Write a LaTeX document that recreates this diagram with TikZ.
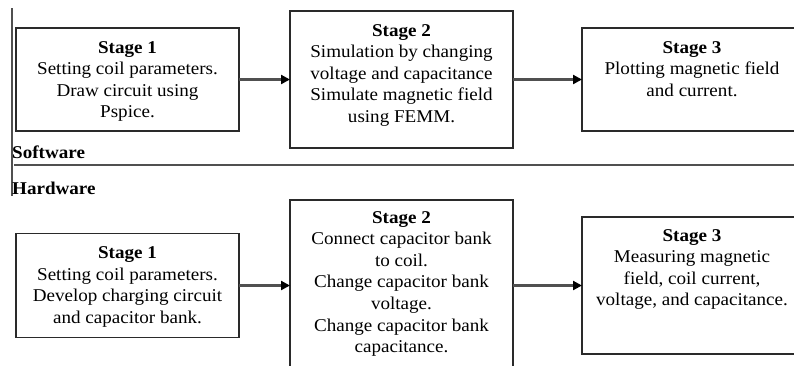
\documentclass[tikz,border=0pt]{standalone}
\usepackage{fontspec}
\setmainfont[FakeStretch=1.06]{Liberation Serif}
\usetikzlibrary{arrows.meta}

\definecolor{boxline}{HTML}{2A2A2A}
\definecolor{arrowline}{HTML}{505050}

\tikzset{
  stagebox/.style={draw=boxline, line width=1.6pt, inner sep=0pt, outer sep=0pt},
  stagetext/.style={anchor=north, align=center, inner sep=0pt,
    font=\fontsize{18}{21.6}\selectfont, text=black},
  flow/.style={draw=arrowline, line width=2.2pt,
    -{Triangle[length=9pt,width=9pt,color=black]}},
  divider/.style={draw=arrowline, line width=2pt},
  sectionlabel/.style={anchor=west, inner sep=0pt,
    font=\fontsize{18}{21}\selectfont\bfseries}
}

\begin{document}
\begin{tikzpicture}[x=1pt, y=-1pt]
  \useasboundingbox (0,0) rectangle (794,365);
  \clip (0,0) rectangle (794,365);

  % section separators
  \coordinate (vtop) at (12,8);
  \coordinate (vbot) at (12,196);
  \coordinate (hl) at (14,165);
  \coordinate (hr) at (794,165);
  \draw[divider, line width=1.4pt] (vtop) -- (vbot);
  \draw[divider] (hl) -- (hr);

  \node[sectionlabel] (sw) at (12,152) {Software};
  \node[sectionlabel] (hw) at (12,188) {Hardware};

  % software chain
  \node[stagebox, minimum width=223pt, minimum height=103pt] (s1) at (127.5,79.5) {};
  \node[stagebox, minimum width=223pt, minimum height=137pt] (s2) at (401.5,79.5) {};
  \node[stagebox, minimum width=238pt, minimum height=103pt] (s3) at (701,79.5) {};

  \node[stagetext] (s1t) at ([yshift=-13pt]s1.north)
    {\textbf{Stage 1}\\Setting coil parameters.\\Draw circuit using\\Pspice.};
  \node[stagetext] (s2t) at ([yshift=-13pt]s2.north)
    {\textbf{Stage 2}\\Simulation by changing\\voltage and capacitance\\Simulate magnetic field\\using FEMM.};
  \node[stagetext] (s3t) at ([yshift=-13pt,xshift=-9pt]s3.north)
    {\textbf{Stage 3}\\Plotting magnetic field\\and current.};

  \draw[flow] (s1.east) -- (s2.west);
  \draw[flow] (s2.east) -- (s3.west);

  % hardware chain
  \node[stagebox, minimum width=223pt, minimum height=104pt] (h1) at (127.5,285.5) {};
  \node[stagebox, minimum width=223pt, minimum height=190pt] (h2) at (401.5,295) {};
  \node[stagebox, minimum width=238pt, minimum height=137pt] (h3) at (701,285.5) {};

  \node[stagetext] (h1t) at ([yshift=-13pt]h1.north)
    {\textbf{Stage 1}\\Setting coil parameters.\\Develop charging circuit\\and capacitor bank.};
  \node[stagetext] (h2t) at ([yshift=-11pt]h2.north)
    {\textbf{Stage 2}\\Connect capacitor bank\\to coil.\\Change capacitor bank\\voltage.\\Change capacitor bank\\capacitance.};
  \node[stagetext] (h3t) at ([yshift=-12pt,xshift=-9pt]h3.north)
    {\textbf{Stage 3}\\Measuring magnetic\\field, coil current,\\voltage, and capacitance.};

  \draw[flow] (h1.east) -- (h2.west |- h1.east);
  \draw[flow] (h2.east |- h3.west) -- (h3.west);
\end{tikzpicture}
\end{document}
